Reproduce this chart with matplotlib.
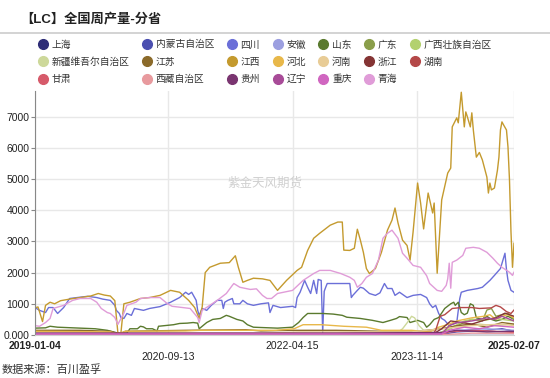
import numpy as np
import pandas as pd
import matplotlib
matplotlib.use("Agg")
import matplotlib.pyplot as plt
from matplotlib.lines import Line2D

plt.rcParams["font.family"] = ["Liberation Sans", "Noto Sans CJK SC", "DejaVu Sans"]

START = pd.Timestamp("2019-01-04")
END = pd.Timestamp("2025-02-07")
tick_dates = ["2019-01-04", "2020-09-13", "2022-04-15", "2023-11-14", "2025-02-07"]
yticks = [0, 1000, 2000, 3000, 4000, 5000, 6000, 7000]
ytick_labels = ["0.000", "1000", "2000", "3000", "4000", "5000", "6000", "7000"]

# ---- data: week index since 2019-01-04, weekly output (t) ----
shanghai_wk = [0, 318]
shanghai_val = [5, 5]
neimeng_wk = [0, 270, 280, 300, 310, 318]
neimeng_val = [20, 20, 100, 150, 200, 120]
sichuan_wk = [0, 3, 7, 9, 12, 15, 19, 23, 28, 35, 41, 45, 50, 53, 54, 56, 57, 59, 61, 64, 66, 72, 76, 83, 90,
              96, 100, 102, 104, 107, 108, 109, 111, 114, 117, 121, 124, 125, 126, 128, 131, 132, 136, 138,
              141, 145, 150, 155, 156, 158, 163, 171, 173, 174, 176, 179, 181, 183, 185, 187, 188, 190, 191,
              192, 193, 194, 198, 209, 210, 211, 214, 216, 218, 222, 226, 229, 232, 234, 237, 239, 242, 247,
              251, 256, 260, 262, 264, 266, 268, 270, 272, 275, 277, 280, 282, 283, 287, 294, 297, 302, 305,
              309, 312, 313, 314, 316, 318]
sichuan_val = [880, 790, 720, 880, 880, 690, 880, 1170, 1200, 1240, 1200, 1150, 1110, 950, 790, 690, 560, 530,
               690, 630, 850, 790, 850, 910, 1050, 1200, 1370, 1300, 1370, 1110, 790, 630, 850, 790, 950,
               1110, 1110, 850, 1050, 1110, 1170, 1000, 1000, 1110, 1000, 950, 1000, 1030, 720, 950, 880, 920,
               880, 1200, 1370, 1750, 1530, 1330, 1750, 1330, 1780, 1750, 80, 1400, 1530, 1650, 1650, 1650,
               1200, 1270, 1430, 1530, 1500, 1330, 1270, 1350, 1650, 1490, 1490, 1270, 1370, 1200, 1270, 1300,
               1200, 1000, 880, 950, 690, 530, 470, 300, 350, 400, 1170, 1370, 1430, 1490, 1530, 1750, 1910,
               2130, 2620, 2100, 1750, 1430, 1370]
anhui_wk = [0, 260, 280, 300, 318]
anhui_val = [10, 20, 150, 200, 150]
shandong_wk = [0, 7, 10, 15, 25, 40, 48, 52, 56, 61, 63, 68, 70, 72, 74, 78, 81, 82, 88, 92, 96, 101, 105,
               108, 109, 114, 118, 123, 127, 129, 134, 138, 141, 145, 150, 161, 171, 175, 178, 181, 185, 191,
               198, 204, 207, 216, 224, 231, 236, 240, 242, 247, 249, 254, 258, 260, 262, 265, 268, 272, 276,
               278, 279, 281, 283, 285, 287, 289, 291, 293, 297, 300, 303, 306, 310, 314, 318]
shandong_val = [220, 230, 280, 250, 230, 200, 150, 100, 50, 60, 200, 200, 280, 260, 200, 200, 130, 280, 310,
                330, 370, 380, 400, 380, 200, 400, 500, 530, 630, 600, 500, 450, 330, 250, 240, 220, 250,
                400, 560, 690, 690, 690, 670, 630, 570, 530, 470, 400, 470, 530, 590, 560, 400, 470, 400,
                250, 330, 500, 560, 850, 1000, 1050, 950, 1050, 720, 650, 700, 1000, 950, 550, 500, 600, 500,
                450, 500, 600, 500]
guangdong_wk = [0, 270, 273, 280, 290, 297, 300, 303, 306, 310, 314, 318]
guangdong_val = [30, 30, 150, 300, 500, 450, 800, 850, 600, 650, 700, 500]
guangxi_wk = [0, 266, 275, 285, 290, 300, 305, 310, 318]
guangxi_val = [10, 20, 200, 450, 500, 480, 550, 500, 450]
xinjiang_wk = [0, 240, 244, 248, 250, 252, 255, 258, 262, 268, 275, 285, 295, 305, 318]
xinjiang_val = [0, 50, 200, 450, 600, 550, 300, 150, 100, 200, 250, 300, 350, 300, 350]
jiangsu_wk = [0, 30, 50, 56, 60, 100, 140, 150, 170, 200, 250, 270, 280, 290, 300, 310, 318]
jiangsu_val = [150, 150, 120, 30, 120, 150, 170, 130, 150, 150, 100, 200, 300, 350, 250, 400, 350]
jiangxi_wk = [0, 2, 5, 7, 10, 13, 17, 23, 30, 37, 42, 46, 50, 53, 55, 57, 59, 63, 70, 76, 83, 90, 96, 102,
              106, 109, 111, 113, 116, 123, 129, 133, 135, 138, 141, 145, 151, 156, 161, 167, 174, 177, 181,
              185, 189, 196, 201, 204, 205, 209, 212, 214, 216, 218, 220, 222, 226, 230, 234, 237, 239, 241,
              244, 247, 249, 251, 254, 256, 258, 261, 264, 265, 267, 270, 274, 276, 277, 280, 281, 283, 285,
              286, 287, 289, 290, 291, 293, 295, 297, 300, 301, 302, 303, 305, 307, 308, 309, 310, 311, 313,
              314, 315, 316, 317, 318]
jiangxi_val = [870, 900, 430, 950, 1050, 1000, 1100, 1150, 1200, 1250, 1330, 1280, 1250, 1100, 80, 50, 1000,
               1050, 1170, 1200, 1270, 1430, 1370, 1110, 880, 530, 900, 2000, 2170, 2300, 2320, 2540, 2170,
               1690, 1750, 1820, 1800, 1750, 1430, 1750, 2070, 2170, 2710, 3100, 3260, 3520, 3620, 3620, 2720,
               2710, 2780, 3390, 3040, 2650, 2130, 1970, 2130, 2650, 3360, 3680, 4070, 3590, 3040, 2870, 2400,
               3300, 4870, 4230, 3400, 4550, 3910, 4230, 1980, 4330, 5190, 5350, 6670, 6960, 6800, 7780, 6670,
               7150, 7000, 6670, 7120, 6570, 5700, 5850, 5610, 5060, 4550, 4870, 4650, 4710, 5280, 5700, 6570,
               6830, 6740, 6570, 6030, 4970, 3300, 2170, 2940]
hebei_wk = [0, 50, 55, 60, 100, 110, 160, 172, 178, 190, 205, 220, 230, 250, 262, 268, 275, 280, 290, 298,
            302, 306, 310, 314, 318]
hebei_val = [120, 100, 30, 120, 130, 150, 150, 200, 330, 330, 280, 250, 150, 150, 100, 250, 350, 450, 550,
             600, 650, 500, 600, 650, 550]
henan_wk = [0, 150, 175, 250, 270, 290, 310, 318]
henan_val = [50, 50, 100, 100, 200, 300, 350, 300]
zhejiang_wk = [0, 265, 270, 276, 283, 290, 300, 306, 312, 318]
zhejiang_val = [50, 50, 200, 450, 400, 350, 500, 550, 700, 600]
hunan_wk = [0, 264, 266, 269, 272, 277, 283, 290, 295, 303, 306, 309, 313, 316, 318]
hunan_val = [30, 30, 150, 600, 650, 850, 880, 880, 850, 870, 950, 900, 750, 690, 800]
gansu_wk = [0, 270, 275, 290, 305, 318]
gansu_val = [20, 20, 100, 150, 120, 80]
xizang_wk = [0, 270, 290, 318]
xizang_val = [10, 10, 60, 50]
guizhou_wk = [0, 100, 200, 270, 280, 300, 318]
guizhou_val = [60, 60, 60, 80, 150, 100, 120]
liaoning_wk = [0, 270, 275, 280, 290, 300, 305, 310, 318]
liaoning_val = [40, 40, 300, 390, 450, 550, 500, 600, 450]
chongqing_wk = [0, 270, 275, 285, 295, 305, 318]
chongqing_val = [30, 30, 150, 250, 200, 300, 250]
qinghai_wk = [0, 3, 7, 10, 12, 19, 25, 30, 37, 41, 44, 48, 50, 53, 55, 59, 61, 64, 67, 70, 76, 83, 88, 91,
              98, 103, 108, 109, 111, 116, 121, 127, 131, 132, 136, 143, 147, 151, 154, 157, 161, 171, 178,
              185, 189, 196, 203, 209, 212, 214, 217, 220, 224, 228, 231, 234, 237, 241, 244, 247, 251, 256,
              260, 262, 267, 270, 273, 274, 275, 276, 277, 280, 284, 286, 291, 295, 300, 304, 307, 310, 315,
              317, 318]
qinghai_val = [300, 280, 400, 530, 850, 950, 1110, 1170, 1170, 1050, 850, 720, 690, 560, 340, 700, 950, 1000,
               1050, 1170, 1200, 1200, 1000, 920, 880, 850, 560, 400, 790, 950, 1110, 1330, 1590, 1650, 1530,
               1460, 1480, 1270, 1170, 1170, 1330, 1430, 1750, 1970, 2070, 2070, 1970, 1850, 1750, 1530, 1650,
               1850, 1970, 2400, 3100, 3260, 3360, 3100, 2620, 2460, 2230, 2170, 1900, 1650, 1430, 1400, 1590,
               1800, 2300, 1500, 2330, 2400, 2550, 2780, 2810, 2780, 2650, 2460, 2300, 2170, 2010, 1910, 2010]

provinces = ["上海", "内蒙古自治区", "四川", "安徽", "山东", "广东", "广西壮族自治区",
             "新疆维吾尔自治区", "江苏", "江西", "河北", "河南", "浙江", "湖南",
             "甘肃", "西藏自治区", "贵州", "辽宁", "重庆", "青海"]
series = [(shanghai_wk, shanghai_val), (neimeng_wk, neimeng_val), (sichuan_wk, sichuan_val),
          (anhui_wk, anhui_val), (shandong_wk, shandong_val), (guangdong_wk, guangdong_val),
          (guangxi_wk, guangxi_val), (xinjiang_wk, xinjiang_val), (jiangsu_wk, jiangsu_val),
          (jiangxi_wk, jiangxi_val), (hebei_wk, hebei_val), (henan_wk, henan_val),
          (zhejiang_wk, zhejiang_val), (hunan_wk, hunan_val), (gansu_wk, gansu_val),
          (xizang_wk, xizang_val), (guizhou_wk, guizhou_val), (liaoning_wk, liaoning_val),
          (chongqing_wk, chongqing_val), (qinghai_wk, qinghai_val)]
colors = ["#2e2d77", "#4b4fb0", "#6b6fd8", "#9c9fe0", "#5a7a2e", "#8a9e4a", "#b3d16e",
          "#cdd89a", "#8b6a2a", "#c49a2e", "#e8b84a", "#e8cc96", "#843434", "#b44848",
          "#d65a6a", "#e89a9e", "#7a3570", "#a84b98", "#d066c0", "#e09cd8"]

fig = plt.figure(figsize=(5.5, 3.78), dpi=100)
ax = fig.add_axes([35 / 550, 1 - 335 / 378, 479 / 550, 244 / 378])

for (wk, val), c in zip(series, colors):
    d = START + pd.to_timedelta(np.array(wk) * 7, unit="D")
    ax.plot(d, val, color=c, lw=1.0)

ax.set_xlim(START, END)
ax.set_ylim(0, 7820)
ax.set_yticks(yticks)
ax.set_yticklabels(ytick_labels)
ax.set_xticks(pd.to_datetime(tick_dates))
labels = []
for i, t in enumerate(tick_dates):
    labels.append("\n" + t if i in (1, 3) else t)
ax.set_xticklabels(labels)
for i, lab in enumerate(ax.get_xticklabels()):
    if i in (0, 4):
        lab.set_fontweight("bold")
ax.tick_params(axis="x", length=0, pad=4, labelsize=7.5, colors="#222222")
ax.tick_params(axis="y", length=3, width=0.8, color="#888888", pad=1, labelsize=7.5, labelcolor="#222222")
ax.grid(True, color="#e8e8e8", lw=1.0)
ax.set_axisbelow(True)
for s in ["top", "right"]:
    ax.spines[s].set_visible(False)
ax.spines["left"].set_color("#888888")
ax.spines["bottom"].set_color("#d0d0d0")

# watermark
ax.text(0.48, 0.62, "紫金天风期货", transform=ax.transAxes, ha="center", va="center",
        fontsize=9, color="#d0d0d0")

# title and separator
fig.text(20 / 550, 1 - 19 / 378, "【LC】全国周产量-分省", fontsize=9.5, fontweight="bold",
         color="#222222", va="center", ha="left")
fig.add_artist(Line2D([0, 1], [1 - 33 / 378, 1 - 33 / 378], color="#cccccc", lw=1.2))

# legend, row-major order
handles = [Line2D([], [], marker="o", ls="none", ms=7, color=c) for c in colors]
order = []
for c in range(7):
    for r in range(3):
        if r * 7 + c < len(provinces):
            order.append(r * 7 + c)
fig.legend([handles[i] for i in order], [provinces[i] for i in order], ncol=7,
           loc="upper left", bbox_to_anchor=(38 / 550, 1 - 39.5 / 378), frameon=False,
           fontsize=7, handlelength=1.0, handletextpad=0.4, columnspacing=1.3,
           labelspacing=0.75, borderaxespad=0, borderpad=0, labelcolor="#333333")

fig.text(2 / 550, 1 - 369 / 378, "数据来源：百川盈孚", fontsize=8, color="#333333", va="center", ha="left")

fig.savefig("out.png", dpi=100, facecolor="white")
